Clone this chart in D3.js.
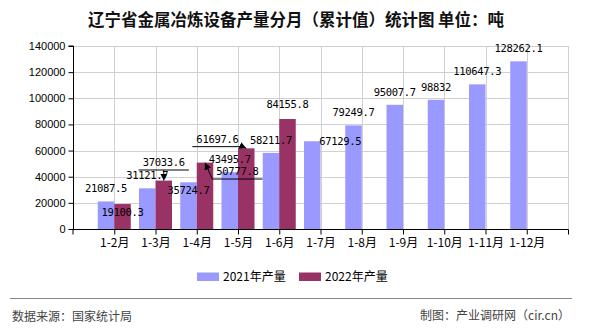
<!DOCTYPE html>
<html><head><meta charset="utf-8">
<script src="https://cdn.jsdelivr.net/npm/d3@7/dist/d3.min.js"></script>
<style>
html,body{margin:0;padding:0;background:#fff;}
svg{display:block;}
</style></head>
<body>
<svg id="chart" width="590" height="330"></svg>
<script>
// ---- data ----
const categories = ["1-2月","1-3月","1-4月","1-5月","1-6月","1-7月","1-8月","1-9月","1-10月","1-11月","1-12月"];
const seriesNames = ["2021年产量","2022年产量"];
const values2021 = [21087.5,31121.7,35724.7,43495.7,58211.7,67129.5,79249.7,95007.7,98832,110647.3,128262.1];
const values2022 = [19100.3,37033.6,50777.8,61697.6,84155.8];
const yTicks = [0,20000,40000,60000,80000,100000,120000,140000];
const title = "辽宁省金属冶炼设备产量分月（累计值）统计图 单位：吨";
const sourceText = "数据来源：国家统计局";
const creditText = "制图：产业调研网（cir.cn）";

// ---- label layout tweaks (offsets of label from bar top, px) ----
const labelTweak2021 = {2:{dx:0,dy:12},5:{dx:28,dy:3.7}};
const labelTweak2022 = {0:{dx:0,dy:12},1:{dx:0,dy:-14.6,leader:true},2:{dx:32.4,dy:12.4,leader:true},3:{dx:-28.8,dy:-5.7,leader:true},4:{dx:0,dy:-10.7}};

const colors = ["#9999FF","#993366"];
const svg = d3.select("#chart");
const L = 73, R = 568, T = 46, B = 229;

const x = d3.scalePoint().domain(categories).range([L,R]).padding(1);
const xs = d3.scaleBand().domain(seriesNames).range([-16.5,16.5]).padding(0);
const y = d3.scaleLinear().domain([0,140000]).range([B,T]);

svg.append("defs").append("marker")
  .attr("id","arr").attr("viewBox","0 0 10 10").attr("refX",10).attr("refY",5)
  .attr("markerWidth",7).attr("markerHeight",7).attr("markerUnits","userSpaceOnUse")
  .attr("orient","auto")
  .append("path").attr("d","M0,0 L10,5 L0,10 z").attr("fill","#000");

// title
svg.append("text").attr("x",296).attr("y",26).attr("text-anchor","middle")
  .attr("font-family","'Noto Sans CJK SC'").attr("font-size",16.5).attr("font-weight","bold")
  .attr("fill","#111").text(title);

// grid
const grid = svg.append("g").attr("stroke","#d0d0d0").attr("stroke-width",1);
yTicks.filter(d=>d>0).forEach(v=>{
  grid.append("line").attr("x1",L).attr("x2",R).attr("y1",Math.round(y(v))+0.5).attr("y2",Math.round(y(v))+0.5);
});
categories.forEach(c=>{
  grid.append("line").attr("x1",Math.round(x(c))+0.5).attr("x2",Math.round(x(c))+0.5).attr("y1",T).attr("y2",B);
});
grid.append("line").attr("x1",R+0.5).attr("x2",R+0.5).attr("y1",T).attr("y2",B);

// bars
const allSeries = [values2021, values2022];
allSeries.forEach((vals,si)=>{
  svg.append("g").selectAll("rect").data(vals).join("rect")
    .attr("x",(d,i)=>x(categories[i])+xs(seriesNames[si]))
    .attr("width",xs.bandwidth())
    .attr("y",d=>y(d)).attr("height",d=>B-y(d))
    .attr("fill",colors[si]);
});

// axes
const yAxis = svg.append("g").attr("transform",`translate(${L+0.5},0)`)
  .call(d3.axisLeft(y).tickValues(yTicks).tickSize(5).tickPadding(3).tickFormat(d3.format("d")));
yAxis.select(".domain").attr("d",`M-5,${T}H0V${B}`).attr("stroke","#000");
yAxis.selectAll("text").attr("font-family","'Liberation Sans',Arial").attr("font-size",11).attr("fill","#000");
yAxis.selectAll("line").attr("stroke","#000");

const xAxis = svg.append("g").attr("transform",`translate(0,${B+0.5})`)
  .call(d3.axisBottom(x).tickSize(5).tickPadding(4));
xAxis.select(".domain").attr("d",`M${L},5V0H${R+0.5}V5`).attr("stroke","#000");
xAxis.selectAll("text").attr("font-family","'Noto Sans CJK SC'").attr("font-size",12).attr("fill","#000");
xAxis.selectAll("line").attr("stroke","#000");

// data labels
const labelFont = "'DejaVu Sans Mono',monospace";
const lblG = svg.append("g");
const leaderG = svg.append("g");
function drawLabels(vals, si, tweaks){
  vals.forEach((v,i)=>{
    const cx = x(categories[i]) + xs(seriesNames[si]) + xs.bandwidth()/2;
    const top = y(v);
    const tw = tweaks[i] || {dx:0,dy:-9};
    const txt = String(v);
    const t = lblG.append("text").attr("x",cx+tw.dx).attr("y",top+tw.dy)
      .attr("text-anchor","middle").attr("font-family",labelFont)
      .attr("font-size",10.5).attr("letter-spacing","-0.3px").attr("fill","#000").text(txt);
    if(tw.leader){
      const bb = t.node().getBBox();
      const ux1 = bb.x-4, ux2 = bb.x+bb.width+4, uy = top+tw.dy+4;
      leaderG.append("line").attr("x1",ux1).attr("x2",ux2).attr("y1",uy).attr("y2",uy)
        .attr("stroke","#000").attr("stroke-width",1);
      const sx = Math.max(ux1, Math.min(ux2, cx));
      leaderG.append("line").attr("x1",sx).attr("y1",uy).attr("x2",cx).attr("y2",top)
        .attr("stroke","#000").attr("stroke-width",1).attr("marker-end","url(#arr)");
    }
  });
}
drawLabels(values2021,0,labelTweak2021);
drawLabels(values2022,1,labelTweak2022);

// legend
const lg = svg.append("g");
const legendX = [197, 299];
seriesNames.forEach((n,i)=>{
  lg.append("rect").attr("x",legendX[i]).attr("y",272.5).attr("width",22).attr("height",8.5).attr("fill",colors[i]);
  lg.append("text").attr("x",legendX[i]+26).attr("y",281).attr("font-family","'Noto Sans CJK SC'")
    .attr("font-size",12).attr("fill","#000").text(n);
});

// footer
svg.append("line").attr("x1",10).attr("x2",572).attr("y1",298.5).attr("y2",298.5).attr("stroke","#888").attr("stroke-width",1);
svg.append("text").attr("x",12).attr("y",320.5).attr("font-family","'Noto Sans CJK SC'").attr("font-size",12)
  .attr("fill","#444").text(sourceText);
svg.append("text").attr("x",570).attr("y",320).attr("text-anchor","end").attr("font-family","'Noto Sans CJK SC'").attr("font-size",12)
  .attr("fill","#444").text(creditText);
</script>
</body></html>
